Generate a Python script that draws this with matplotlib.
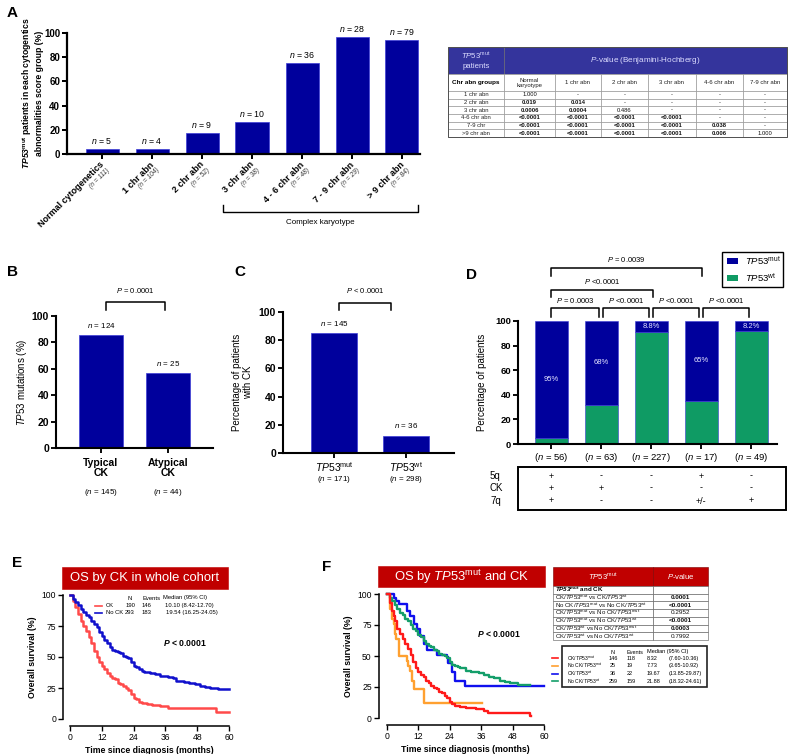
import matplotlib.pyplot as plt
import matplotlib.transforms as mtransforms
from matplotlib.patches import Rectangle

plt.rcParams['font.family'] = ['Liberation Sans', 'DejaVu Sans']
plt.rcParams['mathtext.fontset'] = 'custom'
plt.rcParams['mathtext.rm'] = 'Liberation Sans'
plt.rcParams['mathtext.it'] = 'Liberation Sans:italic'
plt.rcParams['mathtext.bf'] = 'Liberation Sans:bold'
plt.rcParams['mathtext.bfit'] = 'Liberation Sans:italic:bold'

W, H = 788, 754
NAVY = '#00009c'
GREEN = '#0f9b64'
DARKRED = '#c00000'

# ---- data ----
# A: TP53mut share per cytogenetic abnormality group
a_groups = ['Normal cytogenetics', '1 chr abn', '2 chr abn', '3 chr abn',
            '4 - 6 chr abn', '7 - 9 chr abn', '> 9 chr abn']
a_totals = [111, 104, 52, 38, 48, 29, 84]
a_mut_n = [5, 4, 9, 10, 36, 28, 79]
a_pct = [4.5, 3.8, 17.3, 26.3, 75.0, 96.6, 94.0]

a_tab_cols = ['Normal\nkaryotype', '1 chr abn', '2 chr abn', '3 chr abn', '4-6 chr abn', '7-9 chr abn']
a_tab_rows = ['1 chr abn', '2 chr abn', '3 chr abn', '4-6 chr abn', '7-9 chr', '>9 chr abn']
a_tab_vals = [
    ['1.000', '-', '-', '-', '-', '-'],
    ['0.019', '0.014', '-', '-', '-', '-'],
    ['0.0006', '0.0004', '0.486', '-', '-', '-'],
    ['<0.0001', '<0.0001', '<0.0001', '<0.0001', '-', '-'],
    ['<0.0001', '<0.0001', '<0.0001', '<0.0001', '0.038', '-'],
    ['<0.0001', '<0.0001', '<0.0001', '<0.0001', '0.006', '1.000'],
]

# B: typical vs atypical CK
b_groups = ['Typical\nCK', 'Atypical\nCK']
b_totals = [145, 44]
b_mut_n = [124, 25]
b_pct = [85.5, 56.8]

# C: CK share by TP53 status
c_groups = ['mut', 'wt']
c_totals = [171, 298]
c_ck_n = [145, 36]
c_pct = [84.8, 12.1]

# D: stacked TP53 status by 5q / CK / 7q profile
d_totals = [56, 63, 227, 17, 49]
d_mut = [95, 68, 8.8, 65, 8.2]
d_wt = [5, 32, 91.2, 35, 91.8]
d_mut_lbl = ['95%', '68%', '8.8%', '65%', '8.2%']
d_5q = ['+', '-', '-', '+', '-']
d_ck = ['+', '+', '-', '-', '-']
d_7q = ['+', '-', '-', '+/-', '+']

# E: OS by CK
e_ck_t = [0, 1, 2, 3, 4, 5, 6, 7, 8, 9, 10, 11, 12, 13, 14, 15, 16, 17, 18, 19, 20,
          21, 22, 23, 24, 25, 26, 27, 29, 31, 34, 37, 55, 60]
e_ck_s = [100, 95, 90, 85, 79, 75, 71, 66, 61, 55, 50, 46, 43, 40, 37, 35, 33, 32, 29, 28, 27,
          25, 23, 20, 17, 16, 14, 13, 12, 11, 10.5, 9, 6, 6]
e_nock_t = [0, 1, 2, 3, 4, 5, 6, 7, 8, 9, 10, 11, 12, 13, 14, 15, 16, 17, 18, 19, 20, 21, 22,
            23, 24, 25, 26, 27, 28, 30, 32, 34, 37, 39, 40, 43, 45, 47, 49, 51, 53, 56, 60]
e_nock_s = [100, 97, 94, 92, 89, 86, 84, 82, 79, 77, 74, 70, 67, 64, 61, 58, 56, 55, 54, 53, 51, 50, 49,
            46, 43, 42, 40, 39, 38, 37, 36, 35, 34, 33, 31, 30, 29, 28, 27, 26, 25, 24, 24]
e_groups = ['CK', 'No CK']
e_N = [190, 293]
e_events = [146, 183]
e_median = ['10.10 (8.42-12.70)', '19.54 (16.25-24.05)']

# F: OS by TP53 status and CK
f_ckmut_t = [0, 1, 2, 2.5, 3, 4, 5, 6, 7, 8, 9, 10, 11, 12, 13, 14, 15, 16, 17, 18, 19, 20,
             21, 22, 23, 24, 25, 26, 28, 30, 34, 37, 38.5, 54.6, 55]
f_ckmut_s = [100, 93, 86, 82, 78, 72, 68, 64, 60, 56, 51, 45, 40, 37, 35, 33, 30, 28, 26, 24, 23, 21,
             20, 18, 16, 13, 11, 10, 9, 8, 7, 6, 4, 1.5, 1.5]
f_nockmut_t = [0, 1.3, 2, 2.5, 3, 3.6, 4.4, 7.6, 8.2, 8.9, 9.5, 10.2, 14.2, 36.4]
f_nockmut_s = [100, 88, 80, 76, 68, 64, 50, 46, 42, 38, 30, 23, 12, 12]
f_ckwt_t = [0, 2.5, 3.5, 4.4, 7.6, 8.9, 10.2, 11.4, 12.7, 14, 15.2, 19, 22.8, 23.5, 24.7, 26, 29.8, 60]
f_ckwt_s = [100, 97, 94, 92, 86, 82, 76, 72, 66, 60, 55, 51, 49, 44, 37, 30, 26, 26]
f_nockwt_t = [0, 1, 2, 3, 4, 5, 6, 7, 8, 9, 10, 11, 12, 13, 14, 15, 16, 17, 18, 19, 20, 21, 22,
              23, 24, 25, 26, 27, 28, 30, 32, 35, 37, 39, 41, 43, 45, 47, 50, 54.6]
f_nockwt_s = [100, 97, 94, 91, 88, 85, 83, 80, 78, 75, 72, 70, 67, 65, 62, 60, 58, 57, 55, 54, 52, 51, 50,
              48, 45, 43, 42, 41, 40, 38, 37, 36, 35, 33, 32, 30, 29, 28, 27, 27]
f_colors = ['#ff1a1a', '#ffa030', '#1010ee', '#149e6a']
f_labels = [('CK', 'mut'), ('No CK', 'mut'), ('CK', 'wt'), ('No CK', 'wt')]
f_N = [146, 25, 36, 259]
f_events = [118, 19, 22, 159]
f_median = ['8.32', '7.73', '19.67', '21.88']
f_ci = ['(7.60-10.36)', '(3.65-10.92)', '(13.85-29.87)', '(18.32-24.61)']
f_comp = [(('CK', 'mut'), ('CK', 'wt'), '0.0001'),
          (('No CK', 'mut'), ('No CK', 'wt'), '<0.0001'),
          (('CK', 'mut'), ('No CK', 'mut'), '0.2952'),
          (('CK', 'mut'), ('No CK', 'wt'), '<0.0001'),
          (('CK', 'wt'), ('No CK', 'mut'), '0.0003'),
          (('CK', 'wt'), ('No CK', 'wt'), '0.7992')]


def tp(sup):
    return r'$\mathit{TP53}^{\mathrm{%s}}$' % sup


def is_sig(v):
    return v.startswith('<') or (v != '-' and float(v) < 0.05)


fig = plt.figure(figsize=(W / 100, H / 100), dpi=100)


def add_ax(x0, y0, x1, y1):
    return fig.add_axes([x0 / W, 1 - y1 / H, (x1 - x0) / W, (y1 - y0) / H])


def style_ax(ax, lw=1.5, fs=7, bold=True):
    ax.spines['top'].set_visible(False)
    ax.spines['right'].set_visible(False)
    ax.spines['left'].set_linewidth(lw)
    ax.spines['bottom'].set_linewidth(lw)
    ax.tick_params(width=lw * 0.9, length=3.5, labelsize=fs, pad=1.5)
    if bold:
        for lab in ax.get_yticklabels() + ax.get_xticklabels():
            lab.set_fontweight('bold')


def bracket(ax, x0, x1, y_top, drop, label, y_txt, fs=5.5):
    ax.plot([x0, x0, x1, x1], [y_top - drop, y_top, y_top, y_top - drop],
            color='black', lw=1.1, clip_on=False)
    ax.text((x0 + x1) / 2, y_txt, label, ha='center', va='center', fontsize=fs, clip_on=False)


# ---- Panel A ----
axA = add_ax(67, 33, 420, 154)
xa = list(range(len(a_pct)))
axA.bar(xa, a_pct, width=0.66, color=NAVY, edgecolor='#3c3cd6', lw=0.5)
for i, (p, n) in enumerate(zip(a_pct, a_mut_n)):
    axA.text(i, p + 2.5, f'$n$ = {n}', ha='center', va='bottom', fontsize=6.3, clip_on=False)
axA.set_xlim(-0.7, 6.36)
axA.set_ylim(0, 100)
axA.set_yticks([0, 20, 40, 60, 80, 100])
axA.set_xticks(xa)
axA.set_xticklabels([])
style_ax(axA, lw=1.6, fs=7)
for i, (g, t) in enumerate(zip(a_groups, a_totals)):
    axA.annotate(g, xy=(i, 0), xytext=(3, -9), textcoords='offset points', rotation=45,
                 rotation_mode='anchor', ha='right', va='bottom', fontsize=6.5,
                 fontweight='bold', annotation_clip=False)
    axA.annotate(f'(n = {t})', xy=(i, 0), xytext=(3, -9), textcoords='offset points', rotation=45,
                 rotation_mode='anchor', ha='right', va='top', fontsize=4.8, style='italic',
                 color='#333333', annotation_clip=False)
axA.set_ylabel(r'$\mathbfit{TP53}^{\mathbf{mut}}$ patients in each cytogentics' + '\n'
               + 'abnormalities score group (%)', fontsize=6.2, fontweight='bold', labelpad=0)

# ---- Panel B ----
axB = add_ax(56, 316, 213, 448)
axB.bar([0, 1], b_pct, width=0.66, color=NAVY, edgecolor='#3c3cd6', lw=0.5)
for i, (p, n) in enumerate(zip(b_pct, b_mut_n)):
    axB.text(i, p + 4, f'$n$ = {n}', ha='center', va='bottom', fontsize=5.8)
axB.set_xlim(-0.67, 1.67)
axB.set_ylim(0, 100)
axB.set_yticks([0, 20, 40, 60, 80, 100])
axB.set_xticks([0, 1])
axB.set_xticklabels([])
style_ax(axB, lw=1.5, fs=7.5)
for i, (g, t) in enumerate(zip(b_groups, b_totals)):
    axB.annotate(g, xy=(i, 0), xytext=(0, -7), textcoords='offset points', ha='center', va='top',
                 fontsize=7.5, fontweight='bold', linespacing=1.05, annotation_clip=False)
    axB.annotate(f'($n$ = {t})', xy=(i, 0), xytext=(0, -32), textcoords='offset points',
                 ha='center', va='center', fontsize=5.8, annotation_clip=False)
axB.set_ylabel(r'$\mathit{TP53}$ mutations (%)', fontsize=7, labelpad=2)
bracket(axB, 0.07, 0.96, 110.6, 6, r'$P$ = 0.0001', 119.5)

# ---- Panel C ----
axC = add_ax(283, 312, 454, 453)
axC.bar([0, 1], c_pct, width=0.65, color=NAVY, edgecolor='#3c3cd6', lw=0.5)
for i, (p, n) in enumerate(zip(c_pct, c_ck_n)):
    axC.text(i, p + 4, f'$n$ = {n}', ha='center', va='bottom', fontsize=5.8)
axC.set_xlim(-0.71, 1.67)
axC.set_ylim(0, 100)
axC.set_yticks([0, 20, 40, 60, 80, 100])
axC.set_xticks([0, 1])
axC.set_xticklabels([tp(g) for g in c_groups], fontsize=7.5)
style_ax(axC, lw=1.5, fs=7.5, bold=False)
for lab in axC.get_yticklabels():
    lab.set_fontweight('bold')
for i, t in enumerate(c_totals):
    axC.annotate(f'($n$ = {t})', xy=(i, 0), xytext=(0, -19), textcoords='offset points',
                 ha='center', va='center', fontsize=5.8, annotation_clip=False)
axC.set_ylabel('Percentage of patients\nwith CK', fontsize=7, labelpad=4)
bracket(axC, 0.07, 0.79, 106.4, 5, r'$P$ < 0.0001', 115.5)

# ---- Panel D ----
axD = add_ax(518, 321, 777, 444)
xd = list(range(len(d_mut)))
axD.bar(xd, d_wt, width=0.66, color=GREEN, edgecolor='#3c3cd6', lw=0.4)
axD.bar(xd, d_mut, width=0.66, bottom=d_wt, color=NAVY, edgecolor='#3c3cd6', lw=0.4)
for i in xd:
    axD.text(i, d_wt[i] + d_mut[i] / 2, d_mut_lbl[i], ha='center', va='center',
             fontsize=5.5, color='#e4e4ff')
axD.set_xlim(-0.66, 4.52)
axD.set_ylim(0, 100)
axD.set_yticks([0, 20, 40, 60, 80, 100])
axD.set_xticks(xd)
axD.set_xticklabels([f'($n$ = {t})' for t in d_totals], fontsize=7.3)
style_ax(axD, lw=1.5, fs=6.8, bold=False)
for lab in axD.get_yticklabels():
    lab.set_fontweight('bold')
axD.set_ylabel('Percentage of patients', fontsize=7, labelpad=6)
for i in range(4):
    lbl = r'$P$ = 0.0003' if i == 0 else r'$P$ <0.0001'
    bracket(axD, i + (0 if i == 0 else 0.04), i + 0.96, 110.6, 7.3, lbl, 116.5)
bracket(axD, 0, 2.04, 125.2, 5.7, r'$P$ <0.0001', 132.5)
bracket(axD, 0, 3.02, 143, 6.4, r'$P$ = 0.0039', 150.4)

# ---- Panel E ----
axE = add_ax(70, 595, 229, 719)
axE.step(e_ck_t, e_ck_s, where='post', color='#ff4a4a', lw=1.8, clip_on=False)
axE.step(e_nock_t, e_nock_s, where='post', color='#1010cc', lw=1.8, clip_on=False)
axE.set_xlim(0, 60)
axE.set_ylim(0, 100)
axE.set_xticks([0, 12, 24, 36, 48, 60])
axE.set_yticks([0, 25, 50, 75, 100])
style_ax(axE, lw=1.1, fs=6.2)
axE.spines['left'].set_position(('outward', 5))
axE.spines['bottom'].set_position(('outward', 5))
axE.set_xlabel('Time since diagnosis (months)', fontsize=6.3, fontweight='bold', labelpad=3)
axE.set_ylabel('Overall survival (%)', fontsize=6.3, fontweight='bold', labelpad=3)
axE.text(0.72, 0.61, r'$\mathbfit{P}$ < 0.0001', transform=axE.transAxes, ha='center',
         va='center', fontsize=6.2, fontweight='bold')

# ---- Panel F ----
axF = add_ax(387, 594, 544, 718)
for (t, s), c in zip([(f_ckmut_t, f_ckmut_s), (f_nockmut_t, f_nockmut_s),
                      (f_ckwt_t, f_ckwt_s), (f_nockwt_t, f_nockwt_s)], f_colors):
    axF.step(t, s, where='post', color=c, lw=1.7, clip_on=False)
# keep the CK/TP53mut curve on top
axF.lines[0].set_zorder(3)
axF.set_xlim(0, 60)
axF.set_ylim(0, 100)
axF.set_xticks([0, 12, 24, 36, 48, 60])
axF.set_yticks([0, 25, 50, 75, 100])
style_ax(axF, lw=1.1, fs=6.2)
axF.spines['left'].set_position(('outward', 6))
axF.spines['bottom'].set_position(('outward', 5))
axF.set_xlabel('Time since diagnosis (months)', fontsize=6.3, fontweight='bold', labelpad=3)
axF.set_ylabel('Overall survival (%)', fontsize=6.3, fontweight='bold', labelpad=3)
axF.text(0.71, 0.68, r'$\mathbfit{P}$ < 0.0001', transform=axF.transAxes, ha='center',
         va='center', fontsize=6.2, fontweight='bold')

# ---- overlay canvas in pixel coordinates ----
cv = fig.add_axes([0, 0, 1, 1])
cv.set_xlim(0, W)
cv.set_ylim(H, 0)
cv.axis('off')
cv.set_zorder(10)


def ct(x, y, s, **kw):
    kw.setdefault('ha', 'center')
    kw.setdefault('va', 'center')
    cv.text(x, y, s, **kw)


def cell(x0, y0, x1, y1, fc='white', ec='#8a8a8a', lw=0.4):
    cv.add_patch(Rectangle((x0, y0), x1 - x0, y1 - y0, facecolor=fc, edgecolor=ec, lw=lw))


for letter, x, y in [('A', 12, 13), ('B', 13, 272), ('C', 240, 272), ('D', 472, 275),
                     ('E', 17, 563), ('F', 327, 567)]:
    ct(x, y, letter, fontsize=11, fontweight='bold')

# complex karyotype bracket
cv.plot([223, 223, 418, 418], [205, 212, 212, 205], color='black', lw=1.0)
ct(320, 222, 'Complex karyotype', fontsize=5.8)

# table A
col_x = [448, 504, 555, 601, 648, 696, 743, 787]
hdr = '#34349c'
cell(448, 47, 504, 74, fc=hdr, ec='#6a6a6a')
cell(504, 47, 787, 74, fc=hdr, ec='#6a6a6a')
ct(476, 60.5, tp('mut') + '\npatients', fontsize=5.6, color='#dcdcff', linespacing=1.3)
ct(645, 60.5, r'$P$-value (Benjamini-Hochberg)', fontsize=5.9, color='#dcdcff')
cell(448, 74, 504, 91)
ct(476, 82.5, 'Chr abn groups', fontsize=4.6, fontweight='bold')
for j, name in enumerate(a_tab_cols):
    cell(col_x[j + 1], 74, col_x[j + 2], 91)
    ct((col_x[j + 1] + col_x[j + 2]) / 2, 82.5, name, fontsize=4.3, color='#222222', linespacing=1.0)
rh = (137 - 91) / len(a_tab_rows)
for r, rname in enumerate(a_tab_rows):
    y0 = 91 + r * rh
    cell(448, y0, 504, y0 + rh)
    ct(476, y0 + rh / 2, rname, fontsize=4.2, color='#222222')
    for j, v in enumerate(a_tab_vals[r]):
        cell(col_x[j + 1], y0, col_x[j + 2], y0 + rh)
        ct((col_x[j + 1] + col_x[j + 2]) / 2, y0 + rh / 2, v, fontsize=4.2,
           fontweight='bold' if is_sig(v) else 'normal', color='#111111')
cv.add_patch(Rectangle((448, 47), 339, 90, fill=False, ec='#505050', lw=0.7))

# legend D
cv.add_patch(Rectangle((722, 252), 61, 35, fill=False, ec='black', lw=1.0))
cv.add_patch(Rectangle((727, 258), 11, 6, fc=NAVY, ec='none'))
cv.add_patch(Rectangle((727, 275), 11, 6, fc=GREEN, ec='none'))
ct(745, 261, tp('mut'), fontsize=6.8, ha='left')
ct(745, 278, tp('wt'), fontsize=6.8, ha='left')

# table D (5q / CK / 7q)
cv.add_patch(Rectangle((518, 467), 268, 43, fill=False, ec='black', lw=1.4))
bt = mtransforms.blended_transform_factory(axD.transData, cv.transData)
for row_name, vals, y in [('5q', d_5q, 476), ('CK', d_ck, 488), ('7q', d_7q, 501)]:
    ct(490, y, row_name, fontsize=7, ha='left')
    for i, v in enumerate(vals):
        cv.text(i, y, v, transform=bt, ha='center', va='center', fontsize=6.5)

# E title + legend
cell(62, 567, 228, 589, fc=DARKRED, ec=DARKRED)
ct(145, 578, 'OS by CK in whole cohort', fontsize=9.4, color='white')
ct(130, 598, 'N', fontsize=4.2)
ct(143, 598, 'Events', fontsize=4.2, ha='left')
ct(163, 598, 'Median (95% CI)', fontsize=4.2, ha='left')
for k, (g, n, ev, med, col) in enumerate(zip(e_groups, e_N, e_events, e_median,
                                             ['#ff4a4a', '#1010cc'])):
    y = 605.5 + k * 7
    cv.plot([95, 102], [y, y], color=col, lw=1.2)
    ct(106, y, g, fontsize=4.2, ha='left')
    ct(130, y, str(n), fontsize=4.2)
    ct(146, y, str(ev), fontsize=4.2)
    ct(165 + k * 1.5, y, med, fontsize=4.2, ha='left')

# F title
cell(378, 566, 545, 587, fc=DARKRED, ec=DARKRED)
ct(461.5, 577, r'OS by $\mathit{TP53}^{\mathrm{mut}}$ and CK', fontsize=9.4, color='white')

# F p-value table
cell(553, 567, 653, 586, fc=DARKRED, ec='#7a0000')
cell(653, 567, 708, 586, fc=DARKRED, ec='#7a0000')
ct(603, 576.5, tp('mut'), fontsize=5.6, color='white')
ct(680.5, 576.5, r'$P$-value', fontsize=5.6, color='white')
frh = (640 - 586) / (len(f_comp) + 1)
cell(553, 586, 653, 586 + frh, ec='#555555')
cell(653, 586, 708, 586 + frh, ec='#555555')
ct(555, 586 + frh / 2, r'$\mathbfit{TP53}^{\mathbf{mut}}$ and CK', fontsize=4.5,
   fontweight='bold', ha='left')
for r, ((g1, s1), (g2, s2), pv) in enumerate(f_comp):
    y0 = 586 + (r + 1) * frh
    cell(553, y0, 653, y0 + frh, ec='#555555')
    cell(653, y0, 708, y0 + frh, ec='#555555')
    ct(555, y0 + frh / 2, f'{g1}/' + tp(s1) + f' vs {g2}/' + tp(s2), fontsize=4.4, ha='left',
       color='#111111')
    ct(680.5, y0 + frh / 2, pv, fontsize=4.6, fontweight='bold' if is_sig(pv) else 'normal',
       color='#111111')

# F legend box
cv.add_patch(Rectangle((562, 646), 145, 41, fill=False, ec='#222222', lw=1.2))
ct(613, 652, 'N', fontsize=4.0)
ct(627, 652, 'Events', fontsize=4.0, ha='left')
ct(647, 652, 'Median (95% CI)', fontsize=4.0, ha='left')
for k, ((g, s), n, ev, med, ci, col) in enumerate(zip(f_labels, f_N, f_events, f_median,
                                                        f_ci, f_colors)):
    y = 658.3 + k * 7.6
    cv.plot([552, 558], [y, y], color=col, lw=1.2)
    ct(567, y, f'{g}/' + tp(s), fontsize=3.6, ha='left')
    ct(613, y, str(n), fontsize=4.0)
    ct(627, y, str(ev), fontsize=4.0, ha='left')
    ct(647, y, med, fontsize=4.0, ha='left')
    ct(669, y, ci, fontsize=4.0, ha='left')

fig.savefig('out.png', dpi=100)
